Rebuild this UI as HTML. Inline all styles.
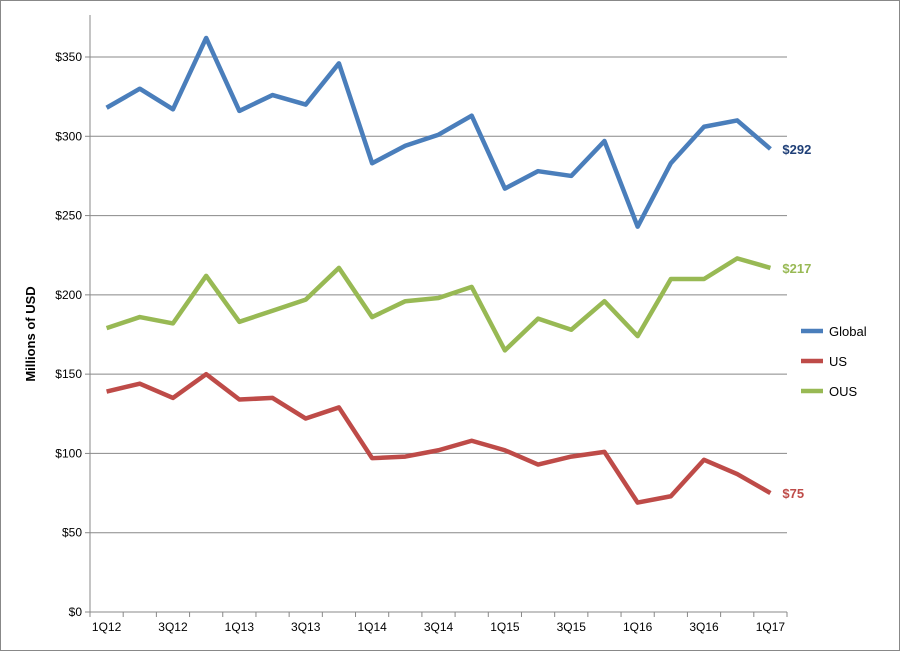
<!DOCTYPE html>
<html><head><meta charset="utf-8">
<style>
body{margin:0;background:#fff;font-family:"Liberation Sans",sans-serif;}
svg{display:block}
</style></head><body>
<svg width="900" height="651" id="chart">
<rect x="0.5" y="0.5" width="899" height="650" fill="#fff" stroke="#888"/>
<g id="grid"></g><g id="axes"></g><g id="series"></g><g id="legend"></g>
<text transform="translate(35,334) rotate(-90)" text-anchor="middle" font-size="13" font-weight="bold">Millions of USD</text>
</svg>
<script>
const categories=["1Q12","2Q12","3Q12","4Q12","1Q13","2Q13","3Q13","4Q13","1Q14","2Q14","3Q14","4Q14","1Q15","2Q15","3Q15","4Q15","1Q16","2Q16","3Q16","4Q16","1Q17"];
const globalVals=[318,330,317,362,316,326,320,346,283,294,301,313,267,278,275,297,243,283,306,310,292];
const usVals=[139,144,135,150,134,135,122,129,97,98,102,108,102,93,98,101,69,73,96,87,75];
const ousVals=[179,186,182,212,183,190,197,217,186,196,198,205,165,185,178,196,174,210,210,223,217];
const yTicks=[0,50,100,150,200,250,300,350];
const seriesNames=["Global","US","OUS"];
const NS="http://www.w3.org/2000/svg";
const X0=90,X1=787,Y0=612,Y1=57,YMAX=350;
const bw=(X1-X0)/categories.length;
const x=i=>X0+bw*(i+0.5);
const y=v=>Y0-(v/YMAX)*(Y0-Y1);
function mk(t,a,p){const e=document.createElementNS(NS,t);for(const k in a)e.setAttribute(k,a[k]);p.appendChild(e);return e;}
const grid=document.getElementById('grid'),axes=document.getElementById('axes'),ser=document.getElementById('series'),leg=document.getElementById('legend');
yTicks.forEach(t=>{
 if(t>0){const l=mk('line',{x1:X0,x2:X1,y1:y(t),y2:y(t),stroke:'#888','stroke-width':1},grid);
 
 }
 const tx=mk('text',{x:X0-8,y:y(t)+4,'text-anchor':'end','font-size':12},axes);tx.textContent='$'+t;
 
 
 mk('line',{x1:X0-5,x2:X0,y1:y(t),y2:y(t),stroke:'#888'},axes);
});
mk('line',{x1:X0,x2:X0,y1:Y1-42,y2:Y0,stroke:'#888'},axes);
mk('line',{x1:X0,x2:X1,y1:Y0,y2:Y0,stroke:'#888'},axes);
categories.forEach((c,i)=>{
 mk('line',{x1:X0+bw*i,x2:X0+bw*i,y1:Y0,y2:Y0+5,stroke:'#888'},axes);
 if(i%2==0){const t=mk('text',{x:x(i),y:Y0+19,'text-anchor':'middle','font-size':12},axes);t.textContent=c;
 
 }
});
mk('line',{x1:X1,x2:X1,y1:Y0,y2:Y0+5,stroke:'#888'},axes);
const data=[globalVals,usVals,ousVals];
const colors=["#4a7ebb","#be4b48","#98b954"];
const labelColors=["#1f3f77","#be4b48","#98b954"];
data.forEach((vals,s)=>{
 const p=mk('polyline',{points:vals.map((v,i)=>x(i)+','+y(v)).join(' '),fill:'none',stroke:colors[s],'stroke-width':4.5,'stroke-linejoin':'round'},ser);
 
 
 const last=vals[vals.length-1];
 const t=mk('text',{x:x(vals.length-1)+12,y:y(last)+5,'font-size':13,'font-weight':'bold',fill:labelColors[s]},ser);
 t.textContent='$'+last;
 
 
 const ly=331+30*s;
 const g=mk('g',{},leg);
 
 
 mk('line',{x1:801,x2:823,y1:ly,y2:ly,stroke:colors[s],'stroke-width':4.5},g);
 const lt=mk('text',{x:829,y:ly+5,'font-size':13},g);lt.textContent=seriesNames[s];
});
</script>
</body></html>
